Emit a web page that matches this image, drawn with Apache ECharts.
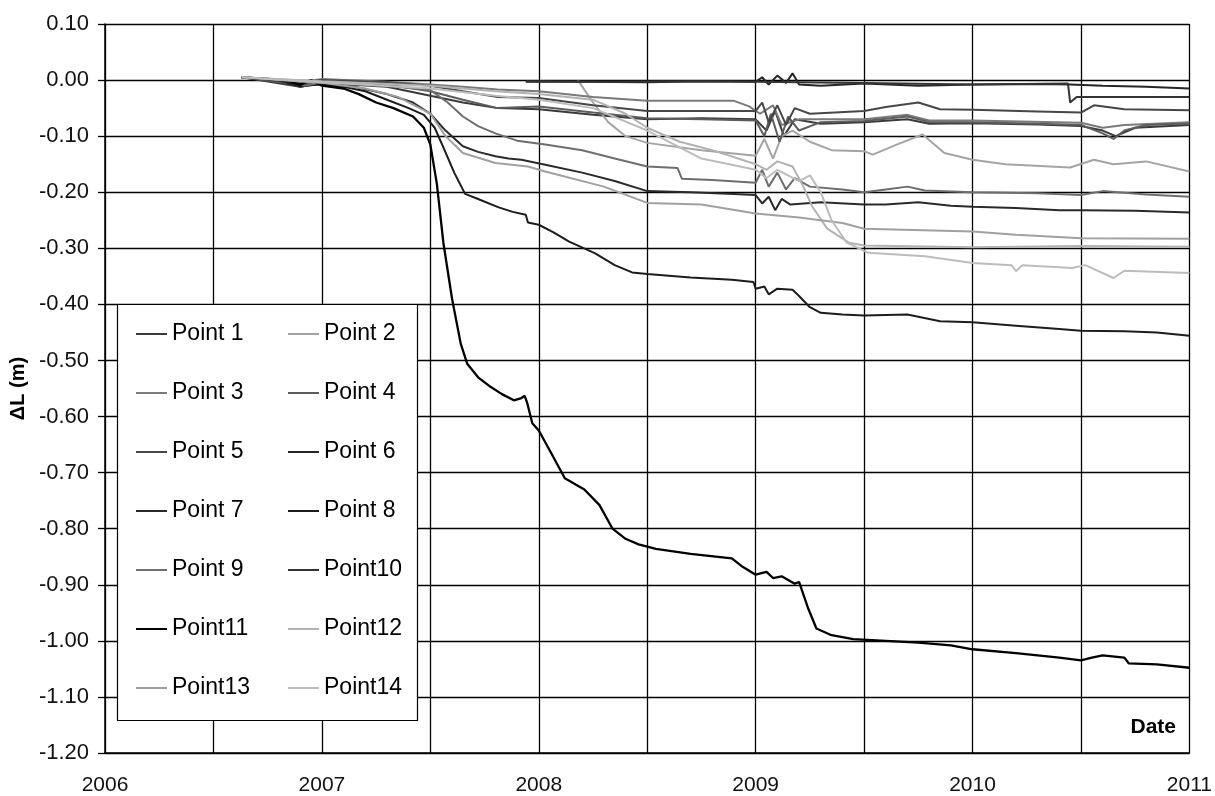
<!DOCTYPE html>
<html>
<head>
<meta charset="utf-8">
<script src="https://cdn.jsdelivr.net/npm/echarts@6/dist/echarts.min.js"></script>
<style>
html,body{margin:0;padding:0;background:#fff;}
#chart{width:1215px;height:796px;}
</style>
</head>
<body>
<div id="chart"></div>
<script>
// ---- data: [decimal year, ΔL (m)] ----
const seriesNames = ['Point 1','Point 2','Point 3','Point 4','Point 5','Point 6','Point 7','Point 8','Point 9','Point10','Point11','Point12','Point13','Point14'];
const seriesColors = ['#3a3a3a','#a4a4a4','#7a7a7a','#5c5c5c','#474747','#262626','#2a2a2a','#1c1c1c','#6e6e6e','#333333','#000000','#b2b2b2','#a0a0a0','#bcbcbc'];
const yTicks = [-1.2,-1.1,-1.0,-0.9,-0.8,-0.7,-0.6,-0.5,-0.4,-0.3,-0.2,-0.1,0.0,0.1];
const xYears = [2006,2007,2008,2009,2010,2011];

const p1 = [[2006.63,0.005],[2006.9,-0.012],[2007.0,-0.005],[2007.3,-0.012],[2007.5,-0.028],[2007.65,-0.04],[2007.81,-0.05],[2008.0,-0.052],[2008.25,-0.062],[2008.5,-0.07],[2008.75,-0.068],[2009.0,-0.07],[2009.05,-0.09],[2009.09,-0.055],[2009.13,-0.1],[2009.18,-0.07],[2009.3,-0.078],[2009.5,-0.075],[2009.7,-0.07],[2009.8,-0.078],[2010.0,-0.077],[2010.3,-0.079],[2010.5,-0.082],[2010.6,-0.09],[2010.66,-0.1],[2010.75,-0.085],[2011.0,-0.08]];
const p2 = [[2008.18,0.0],[2008.25,-0.04],[2008.32,-0.075],[2008.4,-0.1],[2008.5,-0.112],[2008.75,-0.125],[2009.0,-0.135],[2009.04,-0.105],[2009.08,-0.14],[2009.12,-0.1],[2009.17,-0.09],[2009.25,-0.11],[2009.35,-0.125],[2009.5,-0.127],[2009.54,-0.133],[2009.65,-0.115],[2009.77,-0.097],[2009.87,-0.13],[2010.0,-0.142],[2010.15,-0.15],[2010.45,-0.156],[2010.56,-0.142],[2010.65,-0.15],[2010.8,-0.145],[2011.0,-0.163]];
const p3 = [[2006.63,0.005],[2006.9,-0.004],[2007.0,0.002],[2007.3,-0.003],[2007.5,-0.008],[2007.65,-0.012],[2007.81,-0.017],[2008.0,-0.02],[2008.25,-0.03],[2008.5,-0.037],[2008.9,-0.037],[2008.97,-0.047],[2009.02,-0.06],[2009.08,-0.045],[2009.12,-0.08],[2009.2,-0.07],[2009.5,-0.07],[2009.7,-0.062],[2009.8,-0.072],[2010.0,-0.072],[2010.5,-0.076],[2010.6,-0.085],[2010.7,-0.08],[2011.0,-0.075]];
const p4 = [[2006.63,0.005],[2006.9,-0.008],[2007.0,-0.002],[2007.3,-0.008],[2007.5,-0.02],[2007.65,-0.035],[2007.81,-0.05],[2008.0,-0.047],[2008.25,-0.058],[2008.5,-0.068],[2008.75,-0.07],[2009.0,-0.072],[2009.04,-0.1],[2009.07,-0.06],[2009.11,-0.11],[2009.15,-0.065],[2009.2,-0.09],[2009.3,-0.075],[2009.5,-0.073],[2009.7,-0.065],[2009.8,-0.075],[2010.0,-0.075],[2010.3,-0.078],[2010.5,-0.08],[2010.6,-0.095],[2010.65,-0.105],[2010.7,-0.09],[2010.8,-0.08],[2011.0,-0.078]];
const p5 = [[2006.63,0.005],[2006.9,-0.005],[2007.0,0.0],[2007.3,-0.004],[2007.5,-0.01],[2007.65,-0.02],[2007.81,-0.03],[2008.0,-0.032],[2008.25,-0.045],[2008.5,-0.055],[2008.75,-0.055],[2009.0,-0.055],[2009.03,-0.04],[2009.06,-0.075],[2009.1,-0.045],[2009.14,-0.08],[2009.18,-0.05],[2009.25,-0.06],[2009.5,-0.055],[2009.6,-0.048],[2009.75,-0.04],[2009.85,-0.052],[2010.0,-0.053],[2010.3,-0.056],[2010.5,-0.058],[2010.56,-0.045],[2010.7,-0.052],[2011.0,-0.054]];
const p6 = [[2007.94,-0.003],[2008.2,-0.003],[2008.5,-0.004],[2008.75,-0.002],[2009.0,-0.003],[2009.03,0.005],[2009.06,-0.008],[2009.1,0.008],[2009.14,-0.005],[2009.17,0.012],[2009.2,-0.008],[2009.3,-0.01],[2009.5,-0.006],[2009.75,-0.01],[2010.0,-0.008],[2010.3,-0.007],[2010.45,-0.008],[2010.6,-0.01],[2010.8,-0.012],[2011.0,-0.015]];
const p7 = [[2006.63,0.005],[2006.8,0.0],[2006.9,-0.012],[2007.0,-0.006],[2007.15,-0.012],[2007.3,-0.025],[2007.42,-0.04],[2007.5,-0.06],[2007.57,-0.09],[2007.65,-0.118],[2007.72,-0.128],[2007.8,-0.136],[2007.86,-0.14],[2007.92,-0.142],[2008.03,-0.151],[2008.2,-0.165],[2008.35,-0.18],[2008.5,-0.198],[2008.7,-0.2],[2008.9,-0.203],[2009.0,-0.205],[2009.03,-0.22],[2009.06,-0.208],[2009.09,-0.232],[2009.12,-0.212],[2009.16,-0.222],[2009.3,-0.218],[2009.5,-0.222],[2009.6,-0.222],[2009.75,-0.218],[2009.9,-0.224],[2010.0,-0.226],[2010.2,-0.228],[2010.4,-0.232],[2010.5,-0.232],[2010.75,-0.233],[2011.0,-0.236]];
const p8 = [[2006.63,0.005],[2006.8,0.0],[2006.9,-0.01],[2007.0,-0.008],[2007.1,-0.012],[2007.2,-0.02],[2007.3,-0.035],[2007.4,-0.05],[2007.47,-0.062],[2007.52,-0.085],[2007.56,-0.12],[2007.61,-0.165],[2007.66,-0.203],[2007.72,-0.212],[2007.815,-0.227],[2007.88,-0.235],[2007.94,-0.24],[2007.95,-0.254],[2008.0,-0.258],[2008.07,-0.272],[2008.14,-0.288],[2008.26,-0.309],[2008.35,-0.33],[2008.43,-0.343],[2008.5,-0.346],[2008.7,-0.352],[2008.89,-0.356],[2008.99,-0.36],[2009.0,-0.372],[2009.04,-0.368],[2009.06,-0.382],[2009.1,-0.372],[2009.17,-0.374],[2009.2,-0.385],[2009.25,-0.405],[2009.3,-0.415],[2009.4,-0.418],[2009.5,-0.42],[2009.7,-0.418],[2009.85,-0.43],[2010.0,-0.432],[2010.2,-0.438],[2010.4,-0.444],[2010.5,-0.447],[2010.7,-0.448],[2010.85,-0.45],[2011.0,-0.456]];
const p9 = [[2006.63,0.005],[2006.85,0.0],[2006.92,-0.01],[2007.0,-0.004],[2007.2,-0.008],[2007.35,-0.012],[2007.5,-0.018],[2007.58,-0.04],[2007.65,-0.065],[2007.72,-0.082],[2007.8,-0.095],[2007.9,-0.108],[2008.03,-0.115],[2008.2,-0.125],[2008.35,-0.14],[2008.5,-0.154],[2008.64,-0.157],[2008.66,-0.176],[2008.8,-0.178],[2009.0,-0.183],[2009.03,-0.16],[2009.06,-0.19],[2009.1,-0.165],[2009.14,-0.195],[2009.18,-0.175],[2009.25,-0.19],[2009.4,-0.195],[2009.5,-0.2],[2009.6,-0.195],[2009.7,-0.19],[2009.78,-0.197],[2010.0,-0.2],[2010.3,-0.202],[2010.5,-0.205],[2010.6,-0.198],[2010.8,-0.204],[2011.0,-0.208]];
const p10 = [[2007.94,-0.002],[2008.3,-0.003],[2008.7,-0.002],[2009.0,-0.003],[2009.5,-0.005],[2010.0,-0.008],[2010.44,-0.006],[2010.45,-0.04],[2010.48,-0.03],[2010.7,-0.03],[2011.0,-0.03]];
const p11 = [[2006.63,0.005],[2006.75,0.002],[2006.85,-0.002],[2006.9,-0.008],[2006.95,0.0],[2007.0,-0.01],[2007.1,-0.015],[2007.17,-0.025],[2007.25,-0.04],[2007.33,-0.05],[2007.42,-0.065],[2007.47,-0.085],[2007.5,-0.115],[2007.53,-0.185],[2007.56,-0.29],[2007.6,-0.39],[2007.64,-0.47],[2007.67,-0.506],[2007.72,-0.53],[2007.77,-0.545],[2007.83,-0.56],[2007.885,-0.571],[2007.92,-0.567],[2007.935,-0.563],[2007.946,-0.575],[2007.97,-0.612],[2008.0,-0.625],[2008.05,-0.66],[2008.12,-0.71],[2008.21,-0.73],[2008.28,-0.758],[2008.34,-0.8],[2008.4,-0.818],[2008.46,-0.828],[2008.54,-0.836],[2008.7,-0.845],[2008.89,-0.853],[2008.94,-0.868],[2009.0,-0.882],[2009.05,-0.877],[2009.08,-0.888],[2009.12,-0.885],[2009.18,-0.898],[2009.2,-0.895],[2009.24,-0.94],[2009.28,-0.978],[2009.35,-0.99],[2009.45,-0.997],[2009.6,-1.0],[2009.75,-1.003],[2009.9,-1.008],[2010.0,-1.015],[2010.2,-1.022],[2010.4,-1.03],[2010.5,-1.035],[2010.55,-1.03],[2010.6,-1.026],[2010.7,-1.03],[2010.72,-1.04],[2010.85,-1.042],[2011.0,-1.048]];
const p12 = [[2006.63,0.005],[2007.0,-0.002],[2007.5,-0.01],[2007.8,-0.02],[2008.0,-0.025],[2008.25,-0.035],[2008.4,-0.06],[2008.5,-0.085],[2008.65,-0.11],[2008.8,-0.125],[2009.0,-0.15],[2009.05,-0.16],[2009.1,-0.145],[2009.17,-0.154],[2009.22,-0.19],[2009.26,-0.225],[2009.33,-0.265],[2009.43,-0.29],[2009.5,-0.295],[2010.0,-0.298],[2010.5,-0.296],[2011.0,-0.297]];
const p13 = [[2006.63,0.005],[2006.8,0.0],[2007.0,-0.005],[2007.2,-0.015],[2007.35,-0.03],[2007.5,-0.06],[2007.57,-0.1],[2007.65,-0.13],[2007.8,-0.148],[2007.95,-0.154],[2008.03,-0.163],[2008.3,-0.19],[2008.5,-0.219],[2008.75,-0.222],[2009.0,-0.238],[2009.2,-0.245],[2009.4,-0.255],[2009.5,-0.265],[2010.0,-0.27],[2010.2,-0.276],[2010.5,-0.282],[2011.0,-0.283]];
const p14 = [[2006.63,0.005],[2007.0,-0.004],[2007.5,-0.015],[2007.8,-0.028],[2008.0,-0.035],[2008.25,-0.05],[2008.5,-0.09],[2008.75,-0.14],[2009.0,-0.16],[2009.05,-0.175],[2009.1,-0.16],[2009.2,-0.18],[2009.25,-0.17],[2009.3,-0.2],[2009.35,-0.25],[2009.42,-0.29],[2009.52,-0.308],[2009.78,-0.314],[2010.0,-0.326],[2010.18,-0.33],[2010.2,-0.341],[2010.23,-0.33],[2010.46,-0.335],[2010.52,-0.33],[2010.65,-0.353],[2010.7,-0.34],[2011.0,-0.344]];
const allData = [p1,p2,p3,p4,p5,p6,p7,p8,p9,p10,p11,p12,p13,p14];

// ---- chart ----
const chart = echarts.init(document.getElementById('chart'), null, {renderer:'canvas'});
const FONT = 'Liberation Sans, Arial, sans-serif';
const series = seriesNames.map((n,i)=>({
  name:n, type:'line', data:allData[i], symbol:'none', showSymbol:false,
  lineStyle:{color:seriesColors[i], width: (i===10?2.3:2)},
  itemStyle:{color:seriesColors[i]},
  z: 3, silent:true
}));
const colA = seriesNames.filter((_,i)=>i%2===0);
const colB = seriesNames.filter((_,i)=>i%2===1);
const legendCommon = {
  orient:'vertical', top:322, padding:0, itemWidth:31, itemHeight:2, itemGap:35,
  icon:'rect', z:20,
  textStyle:{fontFamily:FONT, fontSize:23, color:'#000', lineHeight:24},
  selectedMode:false
};
chart.setOption({
  animation:false,
  backgroundColor:'#fff',
  grid:{left:104, right:24, top:24, bottom:42, containLabel:false},
  xAxis:{
    type:'value', min:2006, max:2011, interval:0.5,
    axisLine:{show:true, onZero:false, lineStyle:{color:'#000', width:1.5}},
    axisTick:{show:false},
    splitLine:{show:true, lineStyle:{color:'#000', width:1.3}},
    axisLabel:{fontFamily:FONT, fontSize:21, color:'#111', margin:22,
      formatter:(v)=> (Math.abs(v-Math.round(v))<1e-6 && xYears.indexOf(Math.round(v))>=0) ? String(Math.round(v)) : ''}
  },
  yAxis:{
    type:'value', min:yTicks[0], max:yTicks[yTicks.length-1], interval:0.1,
    name:'ΔL (m)', nameLocation:'middle', nameGap:76, nameRotate:90,
    nameTextStyle:{fontFamily:FONT, fontSize:20, fontWeight:'bold', color:'#000'},
    axisLine:{show:true, lineStyle:{color:'#000', width:1.5}},
    axisTick:{show:true, inside:false, length:7, lineStyle:{color:'#000', width:1.3}},
    splitLine:{show:true, lineStyle:{color:'#000', width:1.3}},
    axisLabel:{fontFamily:FONT, fontSize:22, color:'#111', margin:16,
      formatter:(v)=> v.toFixed(2)}
  },
  legend:[
    Object.assign({}, legendCommon, {left:136, data:colA}),
    Object.assign({}, legendCommon, {left:288, data:colB})
  ],
  graphic:[
    {type:'rect', z:1, silent:true, shape:{x:117.5, y:304.5, width:300, height:416},
      style:{fill:'#fff', stroke:'#000', lineWidth:1.2}},
    {type:'text', z:1, x:1176, y:727,
      style:{text:'Date', fontFamily:FONT, fontSize:21, fontWeight:'bold', fill:'#000', align:'right', verticalAlign:'middle'}}
  ],
  series: series
});
</script>
</body>
</html>
